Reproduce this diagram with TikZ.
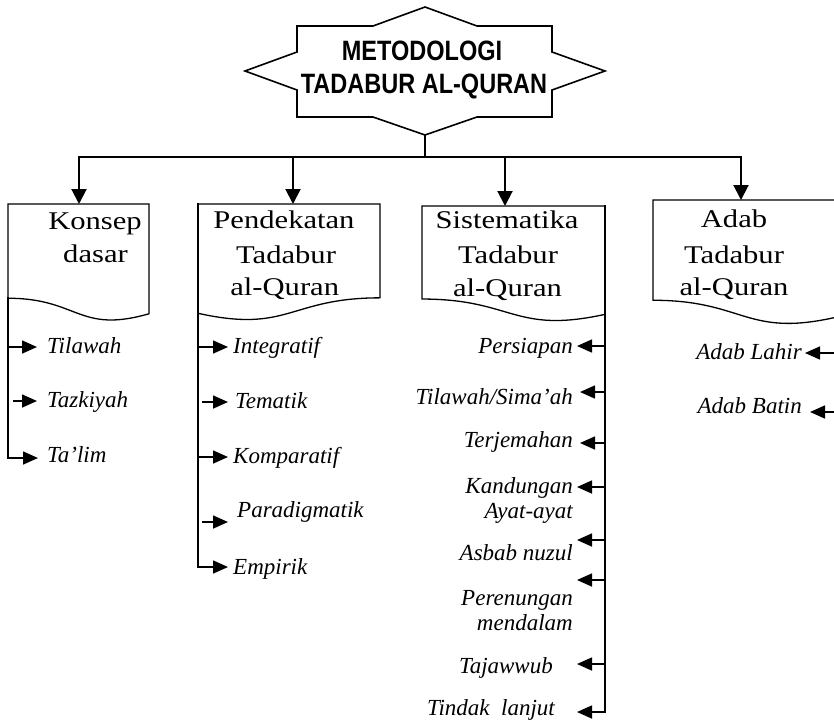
\documentclass[tikz,border=0pt]{standalone}
\usepackage{fontspec}
\setmainfont{Liberation Serif}
\newfontfamily\headfont{Liberation Serif}[FakeStretch=1.2]
\newfontfamily\titlefont{Liberation Sans}[FakeStretch=0.84]
\usetikzlibrary{arrows.meta,calc}

% document-shaped frame: name, right end, two control heights, left end (fractions of height)
\newcommand\docoutline[5]{%
  \draw[outline] (#1.north west) -- (#1.north east)
    -- ($(#1.north east)!#2!(#1.south east)$)
    .. controls ($(#1.north)!#3!(#1.south)$) and ($(#1.north)!#4!(#1.south)$)
    .. ($(#1.north west)!#5!(#1.south west)$) -- cycle;}

\begin{document}
\begin{tikzpicture}[x=1pt,y=-1pt,
  conn/.style={line width=2pt, line cap=rect},
  down/.style={line width=2pt, -{Triangle[length=15pt,width=15pt]}},
  stub/.style={line width=1.6pt, -{Triangle[length=15pt,width=13pt]}},
  outline/.style={line width=1.3pt, line join=miter},
  docframe/.style 2 args={minimum width=#1, minimum height=#2, inner sep=0pt,
    outer sep=0pt, anchor=north west},
  title/.style={font=\titlefont\bfseries\fontsize{28}{33}\selectfont, inner sep=0pt, anchor=base},
  head/.style={font=\headfont\fontsize{25.5}{33}\selectfont, inner sep=0pt, anchor=base},
  itemR/.style={font=\fontsize{23}{27}\selectfont\itshape, inner sep=0pt, anchor=base west},
  itemL/.style={font=\fontsize{23}{27}\selectfont\itshape, inner sep=0pt, anchor=base east}
]
\fill[white] (0,0) rectangle (834,721);
\useasboundingbox (0,0) rectangle (834,721);

% ---------- title star ----------
\draw[line width=1.6pt, line join=miter]
  (425,7) -- (477,26) -- (552,26) -- (552,52) -- (605,71) -- (552,90)
  -- (552,117) -- (477,117) -- (425,135) -- (373,117) -- (297,117)
  -- (297,90) -- (245,71) -- (297,52) -- (297,26) -- (373,26) -- cycle;
\node[title] (t1) at (422,60) {METODOLOGI};
\node[title] (t2) at (424,93) {TADABUR AL-QURAN};
\coordinate (hb) at (425,135);

% ---------- branch bar ----------
\coordinate (bar) at (425,157);
\coordinate (b1) at (79,157);
\coordinate (b2) at (293,157);
\coordinate (b3) at (505,157);
\coordinate (b4) at (741,157);
\draw[conn] (hb) -- (bar);
\draw[conn] (b1) -- (b4);

% ---------- frames ----------
\node[docframe={141pt}{117.5pt}] (konsep) at (8,204) {};
\node[docframe={182pt}{117pt}]   (pend)   at (198,204) {};
\node[docframe={183pt}{116pt}]   (sist)   at (422,206) {};
\node[docframe={185pt}{125pt}]   (adab)   at (653,200) {};

\docoutline{konsep}{0.934}{1.107}{0.802}{0.802}
\docoutline{pend}{0.802}{0.802}{1.107}{0.934}
\docoutline{sist}{0.934}{1.107}{0.802}{0.802}
\docoutline{adab}{0.934}{1.107}{0.802}{0.802}

\draw[down] (b1) -- (b1 |- konsep.north);
\draw[down] (b2) -- (b2 |- pend.north);
\draw[down] (b3) -- (b3 |- sist.north);
\draw[down] (b4) -- (b4 |- adab.north);

% ---------- headings ----------
\node[head] (kh1) at (95,229) {Konsep};
\node[head] (kh2) at (95.5,262) {dasar};
\node[head] (ph1) at (284,228) {Pendekatan};
\node[head] (ph2) at (286,263) {Tadabur};
\node[head] (ph3) at (284.7,295) {al-Quran};
\node[head] (sh1) at (507,228) {Sistematika};
\node[head] (sh2) at (508,263) {Tadabur};
\node[head] (sh3) at (507.5,296) {al-Quran};
\node[head] (ah1) at (734,227) {Adab};
\node[head] (ah2) at (734,263) {Tadabur};
\node[head] (ah3) at (734,295) {al-Quran};

% ---------- Konsep dasar ----------
\coordinate (kt) at ($(konsep.north west)!0.802!(konsep.south west)$);
\coordinate (k1) at (8,347);
\coordinate (k2) at (8,401);
\coordinate (k3) at (8,458);
\draw[conn] (kt) -- (k3);
\node[itemR] (ki1) at (47,353) {Tilawah};
\node[itemR] (ki2) at (47,407) {Tazkiyah};
\node[itemR] (ki3) at (47,462) {Ta’lim};
\draw[stub, shorten >=10pt] (k1) -- (k1 -| ki1.west);
\draw[stub, shorten <=5pt, shorten >=10pt] (k2) -- (k2 -| ki2.west);
\draw[stub, shorten >=9pt] (k3) -- (k3 -| ki3.west);

% ---------- Pendekatan ----------
\coordinate (p1) at (198,347);
\coordinate (p2) at (198,402);
\coordinate (p3) at (198,457);
\coordinate (p4) at (198,522);
\coordinate (p5) at (198,567);
\draw[conn] (pend.north west) -- (p5);
\node[itemR] (pi1) at (233,353) {Integratif};
\node[itemR] (pi2) at (235,408) {Tematik};
\node[itemR] (pi3) at (233,463) {Komparatif};
\node[itemR] (pi4) at (237,517) {Paradigmatik};
\node[itemR] (pi5) at (233,574) {Empirik};
\draw[stub, shorten >=5pt] (p1) -- (p1 -| pi1.west);
\draw[stub, shorten <=4pt, shorten >=7pt] (p2) -- (p2 -| pi2.west);
\draw[stub, shorten >=5pt] (p3) -- (p3 -| pi3.west);
\draw[stub, shorten <=4pt, shorten >=9pt] (p4) -- (p4 -| pi4.west);
\draw[stub, shorten >=5pt] (p5) -- (p5 -| pi5.west);

% ---------- Sistematika ----------
\coordinate (s1) at (605,346);
\coordinate (s2) at (605,392);
\coordinate (s3) at (605,443);
\coordinate (s4) at (605,487);
\coordinate (s5) at (605,540);
\coordinate (s6) at (605,580);
\coordinate (s7) at (605,664);
\coordinate (s8) at (605,712);
\draw[conn] (sist.north east) -- (s8);
\node[itemL] (si1) at (573,353) {Persiapan};
\node[itemL] (si2) at (573,404) {Tilawah/Sima’ah};
\node[itemL] (si3) at (573,447) {Terjemahan};
\node[itemL] (si4) at (573,493) {Kandungan};
\node[itemL] (si4b) at (573,518) {Ayat-ayat};
\node[itemL] (si5) at (573,560) {Asbab nuzul};
\node[itemL] (si6) at (573,605) {Perenungan};
\node[itemL] (si6b) at (573,630) {mendalam};
\node[itemL] (si7) at (553,673) {Tajawwub};
\node[itemL] (si8) at (555,715) {Tindak\ \ lanjut};
\draw[stub, shorten >=4pt] (s1) -- (s1 -| si1.east);
\draw[stub, shorten >=7pt] (s2) -- (s2 -| si2.east);
\draw[stub, shorten >=7pt] (s3) -- (s3 -| si3.east);
\draw[stub, shorten >=4pt] (s4) -- (s4 -| si4.east);
\draw[stub, shorten >=4pt] (s5) -- (s5 -| si5.east);
\draw[stub, shorten >=4pt] (s6) -- (s6 -| si6.east);
\draw[stub, shorten >=24pt] (s7) -- (s7 -| si7.east);
\draw[stub, shorten >=22pt] (s8) -- (s8 -| si8.east);

% ---------- Adab ----------
\coordinate (a1) at (838,353);
\coordinate (a2) at (838,412);
\draw[conn] (adab.north east) -- (a2);
\node[itemL] (ai1) at (802,359) {Adab Lahir};
\node[itemL] (ai2) at (802,413) {Adab Batin};
\draw[stub, shorten >=3pt] (a1) -- (a1 -| ai1.east);
\draw[stub, shorten >=8pt] (a2) -- (a2 -| ai2.east);
\end{tikzpicture}
\end{document}
